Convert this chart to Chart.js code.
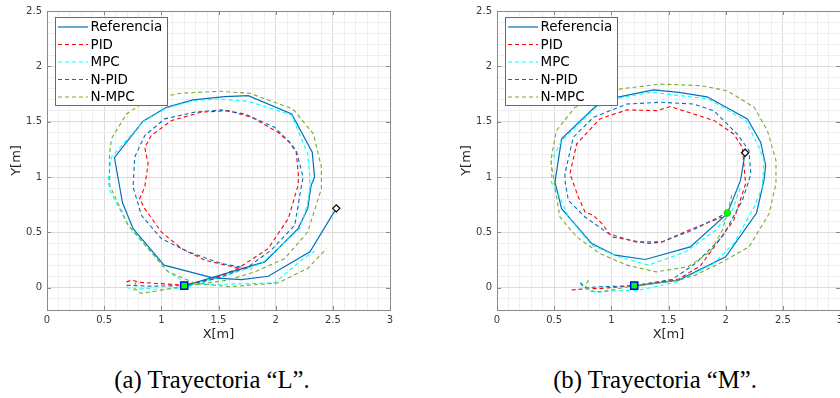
<!DOCTYPE html>
<html>
<head>
<meta charset="utf-8">
<script src="https://cdn.jsdelivr.net/npm/chart.js@4.4.1/dist/chart.umd.min.js"></script>
<style>
  html, body { margin: 0; padding: 0; background: #fff; width: 840px; height: 398px; overflow: hidden; position: relative; }
  .panel { position: absolute; top: 0; width: 420px; height: 345px; }
  #panelL { left: 0; }
  #panelM { left: 450px; }
  .caption { position: absolute; top: 367px; width: 300px; text-align: center;
             font-family: "Liberation Serif", "Times New Roman", serif; font-size: 26px; line-height: 26px; color: #000;
             white-space: nowrap; transform: scaleX(0.95); transform-origin: 50% 50%; }
  #capL { left: 62px; }
  #capM { left: 505px; }
</style>
</head>
<body>
<div class="panel" id="panelL"><canvas id="chartL" width="420" height="345"></canvas></div>
<div class="panel" id="panelM"><canvas id="chartM" width="420" height="345"></canvas></div>
<div class="caption" id="capL">(a) Trayectoria “L”.</div>
<div class="caption" id="capM">(b) Trayectoria “M”.</div>

<script>
// ---- Series names ----
const seriesNames = ['Referencia', 'PID', 'MPC', 'N-PID', 'N-MPC'];

// ---- Axis ticks ----
const xTickValues = [0, 0.5, 1, 1.5, 2, 2.5, 3];
const xTickLabels = ['0', '0.5', '1', '1.5', '2', '2.5', '3'];
const yTickValues = [0, 0.5, 1, 1.5, 2, 2.5];
const yTickLabels = ['0', '0.5', '1', '1.5', '2', '2.5'];

// ---- Trajectory "L" ----
const refLx  = [1.20, 1.905, 2.196, 2.28, 2.31, 2.34, 2.32, 2.14, 1.76, 1.555, 1.277, 1.045, 0.84, 0.59, 0.66, 0.753, 1.024, 1.45, 1.70, 1.935, 2.30, 2.53];
const refLy  = [0.018, 0.234, 0.535, 0.715, 0.925, 1.0, 1.225, 1.571, 1.736, 1.727, 1.697, 1.63, 1.505, 1.175, 0.77, 0.535, 0.205, 0.09, 0.075, 0.105, 0.325, 0.718];

const pidLx  = [0.695, 0.74, 0.826, 1.117, 1.2, 1.45, 1.67, 1.935, 2.11, 2.196, 2.20, 2.18, 2.12, 2.02, 1.79, 1.584, 1.35, 1.088, 0.913, 0.855, 0.884, 0.855, 0.81, 0.855, 1.0, 1.176, 1.38, 1.67, 1.76];
const pidLy  = [0.054, 0.069, 0.049, 0.03, 0.025, 0.08, 0.175, 0.355, 0.625, 0.925, 1.0, 1.225, 1.315, 1.405, 1.54, 1.60, 1.586, 1.51, 1.376, 1.27, 1.12, 0.91, 0.805, 0.715, 0.505, 0.355, 0.25, 0.18, 0.17];

const mpcLx  = [0.695, 0.75, 0.855, 1.0, 1.2, 1.58, 1.875, 2.21, 2.28, 2.30, 2.30, 2.28, 2.14, 1.76, 1.50, 1.28, 1.05, 0.84, 0.563, 0.534, 0.55, 0.71, 1.045, 1.235, 1.585, 1.99, 2.225, 2.34];
const mpcLy  = [0.01, -0.02, -0.005, -0.015, 0.0, 0.115, 0.22, 0.535, 0.76, 0.91, 1.0, 1.21, 1.56, 1.685, 1.705, 1.69, 1.625, 1.50, 1.18, 0.97, 0.88, 0.565, 0.16, 0.03, 0.033, 0.045, 0.25, 0.33];

const npidLx = [0.695, 0.9, 1.2, 1.5, 1.76, 1.96, 2.167, 2.226, 2.24, 2.18, 2.11, 1.99, 1.73, 1.526, 1.29, 1.03, 0.855, 0.767, 0.753, 0.826, 1.0, 1.234, 1.526, 1.79];
const npidLy = [0.024, 0.015, 0.02, 0.09, 0.19, 0.34, 0.565, 0.925, 1.0, 1.24, 1.33, 1.45, 1.57, 1.607, 1.586, 1.526, 1.376, 1.18, 0.91, 0.655, 0.445, 0.325, 0.22, 0.168];

const nmpcLx = [0.78, 0.76, 0.82, 0.95, 1.2, 1.584, 1.817, 2.08, 2.28, 2.40, 2.40, 2.33, 2.15, 1.773, 1.51, 1.16, 0.87, 0.695, 0.563, 0.545, 0.549, 0.71, 0.884, 1.06, 1.3, 1.6, 2.02, 2.28, 2.445];
const nmpcLy = [0.06, 0.0, -0.05, -0.03, 0.015, 0.07, 0.144, 0.265, 0.505, 0.895, 1.09, 1.39, 1.616, 1.757, 1.775, 1.757, 1.69, 1.57, 1.346, 1.18, 0.925, 0.565, 0.355, 0.144, 0.04, 0.01, 0.045, 0.175, 0.355];

const startL = [1.2, 0.02];
const endL   = [2.53, 0.718];

// ---- Trajectory "M" ----
const refMx  = [1.2, 1.59, 2.0, 2.27, 2.335, 2.35, 2.306, 2.19, 1.838, 1.59, 1.37, 1.048, 0.858, 0.565, 0.507, 0.565, 0.829, 1.033, 1.297, 1.69, 2.014, 2.13, 2.17];
const refMy  = [0.015, 0.07, 0.28, 0.676, 0.97, 1.105, 1.315, 1.526, 1.725, 1.766, 1.787, 1.72, 1.635, 1.346, 0.955, 0.715, 0.40, 0.295, 0.256, 0.37, 0.67, 0.97, 1.22];

const pidMx  = [0.653, 0.75, 0.917, 1.2, 1.59, 1.78, 1.90, 2.07, 2.175, 2.16, 2.146, 2.07, 1.90, 1.72, 1.516, 1.40, 1.136, 0.90, 0.697, 0.638, 0.711, 0.77, 0.843, 0.917, 1.004, 1.326, 1.443, 1.677, 1.97];
const pidMy  = [-0.02, -0.01, -0.005, 0.02, 0.08, 0.20, 0.37, 0.61, 0.94, 1.1, 1.27, 1.39, 1.51, 1.57, 1.637, 1.60, 1.607, 1.526, 1.30, 1.03, 0.82, 0.685, 0.655, 0.58, 0.46, 0.40, 0.415, 0.52, 0.64];

const mpcMx  = [0.73, 0.78, 0.87, 0.95, 1.25, 1.575, 1.896, 2.07, 2.25, 2.32, 2.335, 2.29, 2.175, 1.85, 1.355, 1.05, 0.86, 0.565, 0.477, 0.477, 0.536, 0.624, 0.829, 1.062, 1.326, 1.648, 1.911, 2.058, 2.13];
const mpcMy  = [0.05, 0.0, -0.045, -0.03, -0.02, 0.054, 0.22, 0.40, 0.73, 0.91, 1.15, 1.27, 1.51, 1.706, 1.766, 1.71, 1.625, 1.33, 1.15, 0.95, 0.85, 0.64, 0.385, 0.28, 0.205, 0.325, 0.52, 0.70, 0.91];

const npidMx = [0.73, 0.76, 0.9, 1.2, 1.53, 1.736, 1.97, 2.146, 2.204, 2.22, 2.204, 2.10, 1.896, 1.72, 1.43, 1.136, 0.843, 0.667, 0.594, 0.594, 0.624, 0.77, 0.975, 1.21, 1.443, 1.707, 1.97];
const npidMy = [0.045, 0.0, 0.01, 0.02, 0.075, 0.22, 0.46, 0.79, 0.97, 1.03, 1.24, 1.39, 1.60, 1.66, 1.676, 1.66, 1.54, 1.36, 1.03, 0.97, 0.79, 0.64, 0.49, 0.415, 0.415, 0.52, 0.655];

const nmpcMx = [0.80, 0.77, 0.82, 0.917, 1.2, 1.59, 1.736, 1.97, 2.204, 2.38, 2.44, 2.44, 2.365, 2.25, 2.014, 1.78, 1.43, 1.077, 0.682, 0.52, 0.47, 0.507, 0.55, 0.697, 0.90, 1.136, 1.39, 1.67, 1.87, 1.97, 2.03, 2.058];
const nmpcMy = [0.07, 0.02, -0.03, -0.036, 0.02, 0.07, 0.115, 0.234, 0.37, 0.67, 0.94, 1.15, 1.42, 1.63, 1.78, 1.826, 1.84, 1.796, 1.63, 1.42, 1.15, 0.91, 0.64, 0.46, 0.31, 0.205, 0.144, 0.19, 0.33, 0.52, 0.73, 0.865];

const startM  = [1.2, 0.02];
const endM    = [2.17, 1.22];
const switchM = [2.014, 0.676];

// ---- Styling ----
const lineStyles = [
  { color: '#0072BD', width: 1.2, dash: [] },       // Referencia
  { color: '#FF0000', width: 1.1, dash: [4, 3] },   // PID
  { color: '#00FFFF', width: 1.1, dash: [4, 3] },   // MPC
  { color: '#0072BD', width: 1.1, dash: [4, 3] },   // N-PID
  { color: '#77AC30', width: 1.1, dash: [4, 3] }    // N-MPC
];

const toPoints = (xs, ys) => xs.map((x, i) => ({ x: x, y: ys[i] }));

function lineSets(series) {
  return series.map((s, k) => ({
    label: seriesNames[k],
    inLegend: true,
    data: toPoints(s[0], s[1]),
    showLine: true,
    fill: false,
    borderColor: lineStyles[k].color,
    backgroundColor: lineStyles[k].color,
    borderWidth: lineStyles[k].width,
    borderDash: lineStyles[k].dash,
    pointRadius: 0,
    tension: 0,
    order: 10 - k
  }));
}

function markerSet(pt, style, radius, fillColor, edgeColor, edgeWidth) {
  return {
    label: '',
    data: [{ x: pt[0], y: pt[1] }],
    showLine: false,
    pointStyle: style,
    pointRadius: radius,
    pointBackgroundColor: fillColor,
    pointBorderColor: edgeColor,
    pointBorderWidth: edgeWidth,
    order: 0
  };
}

const near = (a, b) => Math.abs(a - b) < 1e-6;
const isMajor = (v) => near(v * 2, Math.round(v * 2));
const gridValues = (lo, hi) => {
  const out = [];
  for (let i = Math.round(lo * 10); i <= Math.round(hi * 10); i++) out.push(i / 10);
  return out;
};

// Frame with inner tick marks around the plotting area
const framePlugin = {
  id: 'frameBox',
  afterDatasetsDraw(chart) {
    const { ctx, chartArea: a, scales } = chart;
    ctx.save();
    ctx.strokeStyle = '#8a8a8a';
    ctx.lineWidth = 1;
    ctx.strokeRect(Math.round(a.left) + 0.5, Math.round(a.top) + 0.5, Math.round(a.right - a.left), Math.round(a.bottom - a.top));
    ctx.beginPath();
    xTickValues.forEach(v => {
      const px = Math.round(scales.x.getPixelForValue(v)) + 0.5;
      ctx.moveTo(px, a.bottom); ctx.lineTo(px, a.bottom - 4);
      ctx.moveTo(px, a.top); ctx.lineTo(px, a.top + 4);
    });
    yTickValues.forEach(v => {
      const py = Math.round(scales.y.getPixelForValue(v)) + 0.5;
      ctx.moveTo(a.left, py); ctx.lineTo(a.left + 4, py);
      ctx.moveTo(a.right, py); ctx.lineTo(a.right - 4, py);
    });
    ctx.stroke();
    ctx.restore();
  }
};

// Boxed legend in the upper-left corner of the axes
const boxLegendPlugin = {
  id: 'boxLegend',
  afterDraw(chart) {
    const { ctx, chartArea } = chart;
    const bx = Math.round(chartArea.left + 8) + 0.5, by = 17.5, bw = 112, bh = 88;
    ctx.save();
    ctx.fillStyle = '#ffffff';
    ctx.fillRect(bx, by, bw, bh);
    ctx.strokeStyle = '#6b6b6b';
    ctx.lineWidth = 1;
    ctx.strokeRect(bx, by, bw, bh);
    ctx.font = '13.5px "DejaVu Sans"';
    ctx.textBaseline = 'middle';
    chart.data.datasets.filter(d => d.inLegend).forEach((d, i) => {
      const yy = by + 9.5 + i * 17.5;
      ctx.strokeStyle = d.borderColor;
      ctx.lineWidth = d.borderWidth;
      ctx.setLineDash(d.borderDash || []);
      ctx.beginPath();
      ctx.moveTo(bx + 2.5, yy);
      ctx.lineTo(bx + 32.5, yy);
      ctx.stroke();
      ctx.setLineDash([]);
      ctx.fillStyle = '#000';
      ctx.fillText(d.label, bx + 35, yy + 0.5);
    });
    ctx.restore();
  }
};

function makeChart(canvasId, series, markers) {
  const tickFont = { family: 'DejaVu Sans', size: 10 };
  const titleFont = { family: 'DejaVu Sans', size: 13 };
  return new Chart(document.getElementById(canvasId), {
    type: 'scatter',
    data: { datasets: lineSets(series).concat(markers) },
    options: {
      responsive: false,
      animation: false,
      devicePixelRatio: 1,
      layout: { padding: { left: 0, top: 10, right: 30, bottom: 0 } },
      plugins: { legend: { display: false }, tooltip: { enabled: false } },
      scales: {
        x: {
          type: 'linear', min: 0, max: 3,
          afterBuildTicks: (s) => { s.ticks = gridValues(0, 3).map(v => ({ value: v })); },
          afterFit: (s) => { s.height = 35; },
          ticks: {
            autoSkip: false, maxRotation: 0, padding: 4, color: '#3a3a3a', font: tickFont,
            callback: (v) => { const i = xTickValues.findIndex(t => near(t, v)); return i >= 0 ? xTickLabels[i] : ''; }
          },
          grid: {
            drawTicks: false,
            color: (c) => (c.tick && isMajor(c.tick.value)) ? '#dcdcdc' : '#efefef'
          },
          border: { display: false },
          title: { display: true, text: 'X[m]', color: '#262626', font: titleFont, padding: { top: 0, bottom: 3 } }
        },
        y: {
          type: 'linear', min: -0.2, max: 2.5,
          afterBuildTicks: (s) => { s.ticks = gridValues(-0.2, 2.5).map(v => ({ value: v })); },
          afterFit: (s) => { s.width = 47; },
          ticks: {
            autoSkip: false, padding: 5, color: '#3a3a3a', font: tickFont,
            callback: (v) => { const i = yTickValues.findIndex(t => near(t, v)); return i >= 0 ? yTickLabels[i] : ''; }
          },
          grid: {
            drawTicks: false,
            color: (c) => (c.tick && isMajor(c.tick.value)) ? '#dcdcdc' : '#efefef'
          },
          border: { display: false },
          title: { display: true, text: 'Y[m]', color: '#262626', font: titleFont, padding: { top: 9, bottom: 0 } }
        }
      }
    },
    plugins: [framePlugin, boxLegendPlugin]
  });
}

makeChart('chartL',
  [[refLx, refLy], [pidLx, pidLy], [mpcLx, mpcLy], [npidLx, npidLy], [nmpcLx, nmpcLy]],
  [
    markerSet(startL, 'rect', 5, '#00FF00', '#0000FF', 1.5),
    markerSet(endL, 'rectRot', 3.6, '#FFFFFF', '#000000', 1.2)
  ]);

makeChart('chartM',
  [[refMx, refMy], [pidMx, pidMy], [mpcMx, mpcMy], [npidMx, npidMy], [nmpcMx, nmpcMy]],
  [
    markerSet(startM, 'rect', 5, '#00FF00', '#0000FF', 1.5),
    markerSet(endM, 'rectRot', 3.6, '#FFFFFF', '#000000', 1.2),
    markerSet(switchM, 'circle', 3.3, '#00FF00', '#22CC22', 1)
  ]);
</script>
</body>
</html>
